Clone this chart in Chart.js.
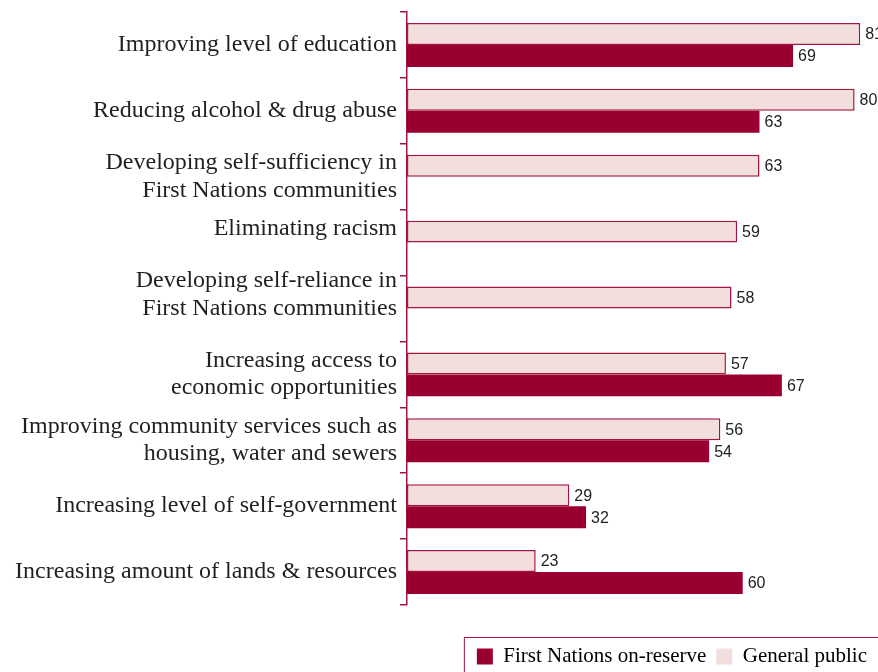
<!DOCTYPE html>
<html>
<head>
<meta charset="utf-8">
<title>Priorities for First Nations</title>
<script src="https://cdn.jsdelivr.net/npm/chart.js@4.4.1/dist/chart.umd.min.js"></script>
<style>
    html, body { margin: 0; padding: 0; background: #fff; }
    .chart-container { position: relative; width: 878px; height: 672px; }
</style>
</head>
<body>
<div class="chart-container">
    <canvas id="priorityChart"></canvas>
</div>
<script>
// Chart data (a trailing blank line lifts a label towards the top of its row)
const categories = [
    'Improving level of education',
    'Reducing alcohol & drug abuse',
    ['Developing self-sufficiency in', 'First Nations communities'],
    ['Eliminating racism', ''],
    ['Developing self-reliance in', 'First Nations communities', ''],
    ['Increasing access to', 'economic opportunities'],
    ['Improving community services such as', 'housing, water and sewers'],
    'Increasing level of self-government',
    'Increasing amount of lands & resources'
];
const generalPublic = [81, 80, 63, 59, 58, 57, 56, 29, 23];
const firstNations = [69, 63, null, null, null, 67, 54, 32, 60];
const seriesNames = ['First Nations on-reserve', 'General public'];

const darkRed = '#990030';
const paleRed = '#f2dfdd';
const lineRed = '#a3163f';

// Value labels at the end of each bar
const valueLabels = {
    id: 'valueLabels',
    afterDatasetsDraw(chart) {
        const ctx = chart.ctx;
        ctx.save();
        ctx.font = '16px "Liberation Sans Narrow", "Liberation Sans", sans-serif';
        ctx.fillStyle = '#222';
        ctx.textAlign = 'left';
        ctx.textBaseline = 'middle';
        chart.data.datasets.forEach((ds, i) => {
            chart.getDatasetMeta(i).data.forEach((bar, j) => {
                const v = ds.data[j];
                if (v === null) return;
                ctx.fillText(v, bar.x + 5, bar.y + 1);
            });
        });
        ctx.restore();
    }
};

// Frame round the legend
const legendFrame = {
    id: 'legendFrame',
    afterDraw(chart) {
        const boxes = chart.legend.legendHitBoxes;
        if (!boxes || !boxes.length) return;
        const ctx = chart.ctx;
        const left = boxes[0].left - 12.5;
        const top = boxes[0].top - 8.5;
        ctx.save();
        ctx.strokeStyle = lineRed;
        ctx.lineWidth = 1;
        ctx.strokeRect(left, top, chart.width - left + 5, chart.height - top + 5);
        ctx.restore();
    }
};

const ctx = document.getElementById('priorityChart').getContext('2d');
const priorityChart = new Chart(ctx, {
    type: 'bar',
    data: {
        labels: categories,
        datasets: [
            {
                label: seriesNames[1],
                data: generalPublic,
                backgroundColor: paleRed,
                borderColor: lineRed,
                borderWidth: 1.5,
                borderSkipped: false,
                categoryPercentage: 0.667,
                barPercentage: 1.0
            },
            {
                label: seriesNames[0],
                data: firstNations,
                backgroundColor: darkRed,
                borderWidth: 0,
                categoryPercentage: 0.667,
                barPercentage: 1.0
            }
        ]
    },
    options: {
        indexAxis: 'y',
        responsive: true,
        maintainAspectRatio: false,
        animation: false,
        layout: {
            padding: { top: 12, right: 1, bottom: -5, left: 0 }
        },
        plugins: {
            legend: {
                position: 'bottom',
                align: 'end',
                reverse: true,
                labels: {
                    boxWidth: 16,
                    boxHeight: 16,
                    padding: 10,
                    color: '#231f20',
                    font: { family: '"Liberation Serif", serif', size: 21 },
                    generateLabels(chart) {
                        return chart.data.datasets.map((ds, i) => ({
                            text: ds.label,
                            fillStyle: ds.backgroundColor,
                            strokeStyle: ds.backgroundColor,
                            lineWidth: 0,
                            datasetIndex: i
                        }));
                    }
                }
            },
            tooltip: { enabled: false }
        },
        scales: {
            x: {
                min: 0,
                max: 84,
                // empty band between the bars and the legend
                afterFit(scale) {
                    scale.height = 31;
                },
                grid: { display: false },
                border: { display: false },
                ticks: { display: false }
            },
            y: {
                afterFit(scale) {
                    scale.width = 407;
                    scale.paddingTop = 0;
                    scale.paddingBottom = 0;
                },
                border: { display: true, color: lineRed, width: 1.5 },
                grid: {
                    display: true,
                    drawOnChartArea: false,
                    drawTicks: true,
                    tickLength: 7,
                    color: lineRed,
                    lineWidth: 1.5
                },
                ticks: {
                    autoSkip: false,
                    padding: 3,
                    color: '#231f20',
                    font: { family: '"Liberation Serif", serif', size: 24, lineHeight: 1.15 }
                }
            }
        }
    },
    plugins: [valueLabels, legendFrame]
});
</script>
</body>
</html>
